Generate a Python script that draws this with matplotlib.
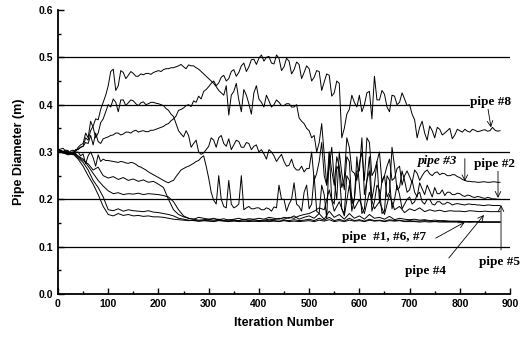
import numpy as np
import matplotlib
matplotlib.use("Agg")
import matplotlib.pyplot as plt

# номер итерации: шаг 5 для «шумных» труб, шаг 10 для остальных
iter_fine = np.arange(0, 881, 5)
iter_coarse = np.arange(0, 881, 10)

# диаметры труб (м)
pipe8 = [.305, .302, .300, .304, .303, .296, .298, .305, .306, .310, .312, .320, .318, .335, .315, .340, .322, .318, .328, .330,
         .332, .335, .336, .340, .340, .336, .338, .342, .342, .340, .344, .346, .342, .344, .345, .343, .343, .346, .346, .348,
         .350, .352, .354, .358, .360, .366, .370, .376, .388, .390, .393, .398, .400, .396, .408, .405, .418, .412, .428, .432,
         .438, .445, .450, .440, .446, .458, .462, .450, .455, .470, .474, .460, .468, .482, .488, .470, .480, .495, .496, .485,
         .498, .505, .492, .500, .502, .488, .486, .505, .498, .472, .480, .498, .492, .465, .474, .490, .485, .455, .468, .482,
         .476, .450, .458, .472, .470, .430, .448, .465, .462, .418, .425, .450, .445, .330, .350, .380, .390, .420, .405, .395,
         .420, .385, .400, .425, .428, .370, .460, .410, .410, .430, .422, .395, .385, .420, .418, .400, .405, .425, .412, .398,
         .400, .380, .368, .330, .352, .365, .340, .325, .355, .345, .330, .352, .348, .336, .340, .345, .350, .328, .336, .348,
         .345, .342, .348, .344, .342, .348, .346, .343, .344, .346, .347, .344, .345, .352, .346, .344, .345]

pipe3 = [.305, .300, .300, .298, .296, .302, .304, .300, .310, .315, .318, .340, .330, .365, .352, .330, .340, .362, .370, .385,
         .400, .395, .412, .405, .385, .410, .410, .398, .404, .410, .408, .402, .398, .404, .406, .400, .402, .405, .405, .403,
         .402, .400, .398, .392, .388, .380, .375, .360, .345, .338, .332, .345, .335, .310, .318, .325, .300, .295, .298, .305,
         .312, .330, .325, .310, .330, .335, .318, .312, .328, .305, .315, .325, .322, .310, .310, .320, .318, .305, .312, .315,
         .300, .305, .296, .285, .305, .300, .292, .280, .288, .295, .280, .270, .272, .285, .268, .262, .262, .270, .258, .265,
         .265, .300, .240, .255, .280, .320, .250, .230, .300, .260, .230, .290, .270, .225, .245, .330, .310, .260, .255, .240,
         .275, .300, .240, .330, .320, .250, .260, .280, .300, .235, .250, .270, .285, .240, .245, .265, .270, .230, .250, .260,
         .248, .235, .262, .255, .240, .250, .258, .262, .254, .250, .256, .258, .252, .255, .254, .250, .250, .252, .252, .248,
         .246, .242, .240, .238, .238, .237, .237, .236, .236, .237, .237, .236, .236, .237, .237, .236, .236]

pipe2 = [.305, .306, .308, .302, .300, .298, .296, .304, .305, .310, .312, .330, .325, .345, .355, .370, .368, .390, .405, .420,
         .440, .470, .475, .430, .440, .472, .468, .455, .462, .470, .466, .460, .460, .465, .463, .466, .466, .464, .468, .470,
         .472, .470, .474, .476, .476, .478, .478, .480, .482, .485, .480, .476, .484, .482, .482, .478, .475, .470, .465, .460,
         .455, .450, .445, .438, .430, .425, .420, .440, .378, .420, .428, .445, .410, .385, .432, .420, .402, .380, .425, .440,
         .412, .405, .395, .420, .408, .395, .400, .410, .405, .398, .398, .402, .402, .395, .395, .400, .372, .365, .360, .350,
         .345, .330, .335, .300, .320, .360, .295, .230, .270, .310, .240, .200, .300, .255, .220, .290, .280, .190, .200, .260,
         .260, .330, .210, .240, .290, .200, .230, .280, .195, .240, .250, .205, .215, .310, .270, .220, .225, .260, .240, .215,
         .220, .240, .215, .205, .235, .222, .210, .230, .218, .205, .225, .212, .212, .220, .208, .215, .215, .210, .210, .213,
         .212, .208, .206, .209, .208, .205, .204, .206, .205, .203, .202, .204, .203, .201, .201, .200, .200]

pipe5 = [.305, .300, .298, .302, .302, .296, .294, .298, .300, .292, .296, .275, .292, .300, .288, .270, .294, .280, .285, .282,
         .282, .281, .280, .279, .278, .280, .279, .277, .276, .278, .277, .274, .270, .268, .265, .262, .258, .255, .252, .249,
         .246, .243, .240, .237, .235, .238, .240, .248, .255, .262, .265, .268, .270, .273, .276, .280, .282, .288, .292, .270,
         .245, .215, .198, .190, .250, .200, .185, .182, .240, .190, .182, .185, .190, .250, .178, .182, .185, .180, .180, .182,
         .182, .178, .178, .182, .180, .175, .184, .182, .230, .200, .200, .175, .190, .200, .235, .190, .185, .175, .215, .230,
         .180, .190, .250, .175, .170, .230, .210, .160, .300, .200, .190, .270, .260, .180, .170, .250, .240, .175, .200, .290,
         .230, .170, .180, .240, .260, .175, .195, .230, .220, .170, .175, .250, .240, .180, .200, .230, .210, .180, .190, .200,
         .205, .190, .195, .210, .215, .195, .190, .200, .200, .190, .188, .195, .195, .190, .190, .194, .192, .188, .190, .191,
         .190, .189, .188, .190, .190, .189, .189, .188, .188, .187, .187, .188, .188, .187, .187, .187, .187]

pipe4 = [.305, .300, .296, .300, .290, .282, .275, .262, .268, .250,
         .245, .248, .242, .246, .240, .243, .238, .241, .236, .238,
         .232, .225, .200, .178, .168, .163, .160, .158, .162, .160,
         .158, .156, .158, .155, .157, .156, .155, .158, .156, .157,
         .155, .156, .158, .157, .160, .158, .162, .160, .165, .168,
         .170, .175, .182, .178, .220, .175, .195, .165, .230, .180,
         .200, .170, .215, .180, .195, .168, .210, .178, .185, .172,
         .180, .176, .182, .174, .178, .175, .177, .174, .176, .175,
         .175, .174, .176, .175, .174, .175, .174, .174, .174]

pipe1 = [.305, .302, .298, .300, .292, .285, .270, .255, .240, .228,
         .218, .212, .214, .210, .212, .211, .213, .210, .212, .211,
         .210, .208, .205, .195, .178, .165, .160, .158, .156, .157,
         .158, .160, .157, .159, .156, .158, .160, .157, .159, .158,
         .160, .158, .162, .160, .158, .162, .160, .165, .158, .162,
         .165, .160, .170, .158, .175, .162, .168, .158, .170, .160,
         .165, .158, .168, .160, .162, .158, .164, .157, .160, .158,
         .157, .158, .156, .157, .155, .156, .155, .155, .154, .154,
         .154, .153, .153, .153, .152, .152, .152, .152, .152]

pipe6 = [.305, .300, .295, .298, .288, .278, .262, .240, .225, .205,
         .178, .176, .180, .175, .178, .176, .175, .174, .176, .173,
         .172, .170, .168, .165, .160, .158, .156, .155, .154, .155,
         .155, .154, .156, .155, .154, .156, .155, .154, .155, .154,
         .155, .154, .156, .155, .154, .156, .155, .157, .155, .156,
         .158, .155, .160, .156, .162, .155, .158, .154, .160, .155,
         .157, .154, .158, .155, .156, .154, .157, .155, .156, .154,
         .155, .154, .154, .155, .154, .153, .154, .153, .153, .153,
         .153, .153, .152, .153, .152, .152, .152, .152, .152]

pipe7 = [.305, .298, .294, .296, .285, .270, .250, .232, .210, .185,
         .168, .165, .170, .166, .168, .165, .166, .164, .165, .163,
         .163, .162, .160, .158, .157, .156, .155, .156, .154, .155,
         .154, .153, .155, .154, .153, .154, .153, .154, .153, .154,
         .153, .154, .153, .154, .153, .155, .153, .154, .153, .154,
         .155, .153, .156, .154, .157, .153, .155, .153, .156, .154,
         .155, .153, .156, .154, .155, .153, .155, .154, .155, .153,
         .153, .153, .152, .153, .152, .153, .152, .152, .152, .152,
         .152, .152, .152, .152, .152, .152, .152, .152, .152]

grid_levels = [0.1, 0.2, 0.3, 0.4, 0.5]

fig = plt.figure(figsize=(5.21, 3.41), dpi=100)
ax = fig.add_axes([0.1113, 0.1378, 0.8677, 0.8329])

for level in grid_levels:
    ax.axhline(level, color='black', lw=0.9, zorder=1)

for series in [pipe8, pipe3, pipe2, pipe5]:
    ax.plot(iter_fine, series, color='black', lw=0.7, zorder=2)
for series in [pipe4, pipe1, pipe6, pipe7]:
    ax.plot(iter_coarse, series, color='black', lw=0.7, zorder=2)

ax.set_xlim(0, 900)
ax.set_ylim(0, 0.6)
ax.set_xticks(np.arange(0, 901, 100))
ax.set_xticks(np.arange(50, 900, 100), minor=True)
ax.set_yticks(np.arange(0, 0.61, 0.1))
ax.set_yticks(np.arange(0.05, 0.6, 0.1), minor=True)
ax.set_yticklabels([f'{v:.1f}' for v in np.arange(0, 0.61, 0.1)])

for side in ['top', 'right']:
    ax.spines[side].set_visible(False)
for side in ['left', 'bottom']:
    ax.spines[side].set_linewidth(1.3)

ax.tick_params(which='both', direction='in', width=1.0)
ax.tick_params(which='major', length=4)
ax.tick_params(which='minor', length=2)
for lab in ax.get_xticklabels() + ax.get_yticklabels():
    lab.set_fontfamily('Liberation Sans')
    lab.set_fontweight('bold')
    lab.set_fontsize(7.5)

ax.set_xlabel('Iteration Number', fontfamily='Liberation Sans', fontweight='bold',
              fontsize=9, labelpad=6)
ax.set_ylabel('Pipe Diameter (m)', fontfamily='Liberation Sans', fontweight='bold',
              fontsize=9, labelpad=10)

# подписи труб
lbl = dict(fontfamily='Liberation Serif', fontweight='bold', fontsize=9.5,
           ha='center', va='center', zorder=5)
box = dict(facecolor='white', edgecolor='none', pad=0.5)
arr = dict(arrowstyle='->', lw=0.6, color='black', shrinkA=0, shrinkB=0)

ax.text(862, 0.405, 'pipe #8', bbox=box, **lbl)
ax.annotate('', xy=(862, 0.352), xytext=(856, 0.392), arrowprops=arr)

ax.text(756, 0.281, 'pipe #3', style='italic', bbox=box, **lbl)
ax.annotate('', xy=(810, 0.238), xytext=(810, 0.286), arrowprops=arr)

ax.text(870, 0.274, 'pipe #2', bbox=box, **lbl)
ax.annotate('', xy=(876, 0.203), xytext=(876, 0.262), arrowprops=arr)

ax.text(650, 0.120, 'pipe  #1, #6, #7', **lbl)
ax.annotate('', xy=(810, 0.152), xytext=(752, 0.118), arrowprops=arr)

ax.text(732, 0.049, 'pipe #4', **lbl)
ax.annotate('', xy=(848, 0.167), xytext=(778, 0.076), arrowprops=arr)

ax.text(878, 0.067, 'pipe #5', **lbl)
ax.annotate('', xy=(882, 0.188), xytext=(882, 0.093), arrowprops=arr)

fig.savefig('out.png', dpi=100)
